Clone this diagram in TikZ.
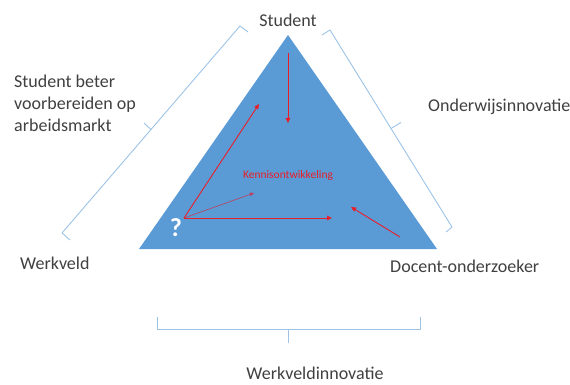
\documentclass[tikz,border=0pt]{standalone}
\usepackage{fontspec}
\setmainfont{Carlito}
\usetikzlibrary{arrows.meta}
\definecolor{triblue}{HTML}{5B9BD5}
\definecolor{brack}{HTML}{9DC3E6}
\definecolor{arrred}{RGB}{232,30,40}
\definecolor{labgray}{HTML}{404040}
\tikzset{
  lbl/.style={font=\fontsize{18}{22}\selectfont, text=labgray, inner sep=0pt},
  brk/.style={draw=brack, line width=0.9pt, line join=round},
  redarr/.style={draw=arrred, line width=0.9pt, -{Triangle[length=5pt,width=4.5pt]}},
}
\begin{document}
\begin{tikzpicture}[x=1pt,y=-1pt]
\useasboundingbox (0,0) rectangle (570,385);
% triangle
\coordinate (A) at (288,35);
\coordinate (BL) at (139,249);
\coordinate (BR) at (437,249);
\fill[triblue] (A) -- (BL) -- (BR) -- cycle;
% brackets
\coordinate (l1) at (248,32); \coordinate (l2) at (240,26);
\coordinate (l3) at (62,233); \coordinate (l4) at (70,240);
\coordinate (lm) at (151,129.5); \coordinate (lt) at (144,123);
\draw[brk] (l1) -- (l2) -- (l3) -- (l4);
\draw[brk] (lm) -- (lt);
\coordinate (r1) at (322,35); \coordinate (r2) at (330,30);
\coordinate (r3) at (452,227); \coordinate (r4) at (446,232);
\coordinate (rm) at (391,128.5); \coordinate (rt) at (401,122.5);
\draw[brk] (r1) -- (r2) -- (r3) -- (r4);
\draw[brk] (rm) -- (rt);
\coordinate (b1) at (157,317); \coordinate (b2) at (157,329);
\coordinate (b3) at (420,329); \coordinate (b4) at (420,317);
\coordinate (bm) at (288,329); \coordinate (bt) at (288,343);
\draw[brk] (b1) -- (b2) -- (b3) -- (b4);
\draw[brk] (bm) -- (bt);
% labels
\node[lbl] (student) at (288,20) {Student};
\node[lbl, anchor=west, align=left, font=\fontsize{18}{22}\selectfont] (sbv) at (14,103) {Student beter\\voorbereiden op\\arbeidsmarkt};
\node[lbl, anchor=west] (werkveld) at (20,263) {Werkveld};
\node[lbl, anchor=west] (onderwijs) at (428,107) {Onderwijsinnovatie};
\node[lbl, anchor=west] (docent) at (390,266) {Docent-onderzoeker};
\node[lbl] (wvi) at (315,373) {Werkveldinnovatie};
\node[font=\fontsize{11.5}{13}\selectfont, text=arrred, inner sep=0pt] (kennis) at (288,175) {Kennisontwikkeling};
\node[font=\fontsize{26}{28}\selectfont\bfseries, text=white, inner sep=0pt] (q) at (176,228) {?};
% red arrows
\coordinate (o) at (184,218);
\coordinate (v1) at (288,53); \coordinate (v2) at (288,123);
\coordinate (u) at (259,104);
\coordinate (m) at (254,193);
\coordinate (h) at (332,218);
\coordinate (d1) at (400,237); \coordinate (d2) at (351,207);
\draw[redarr] (v1) -- (v2);
\draw[redarr] (o) -- (u);
\draw[redarr, draw={rgb,255:red,190;green,60;blue,90}, line width=0.6pt, -{Triangle[length=4pt,width=3.5pt]}] (o) -- (m);
\draw[redarr] (o) -- (h);
\draw[redarr] (d1) -- (d2);
\end{tikzpicture}
\end{document}
